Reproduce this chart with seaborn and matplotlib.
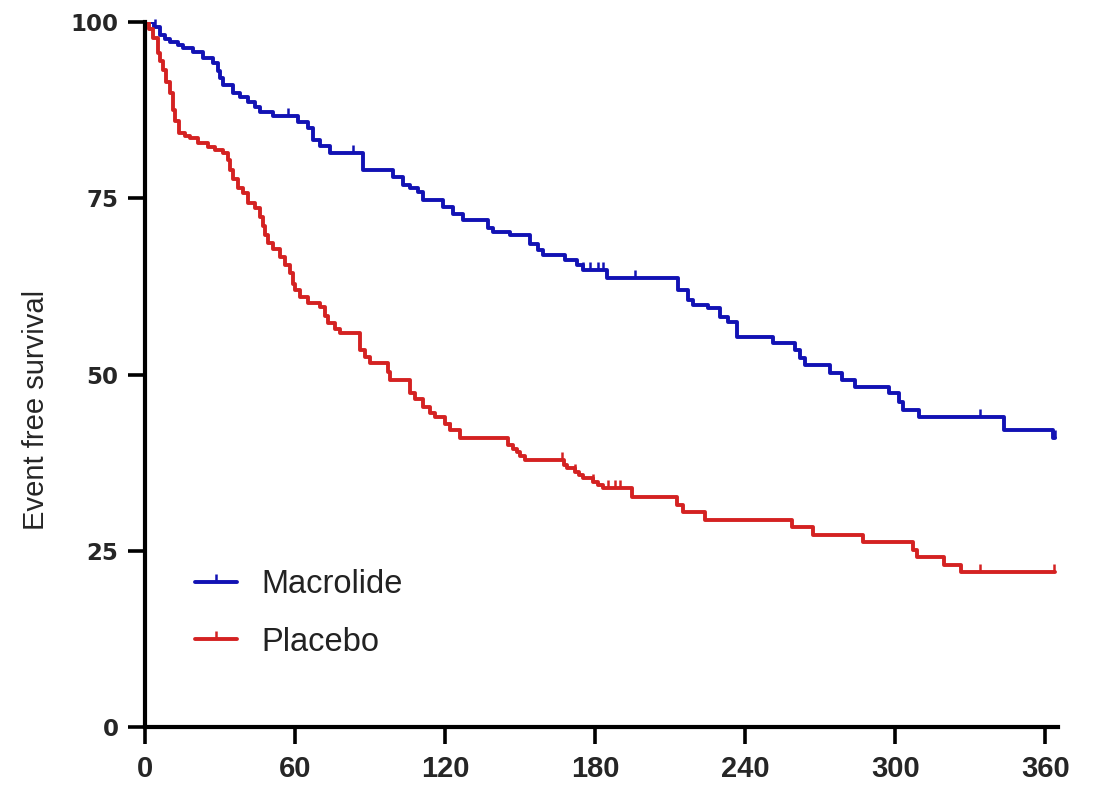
import numpy as np
import pandas as pd
import matplotlib
matplotlib.use("Agg")
import matplotlib.pyplot as plt
from matplotlib.lines import Line2D
import seaborn as sns

# ---------------- data ----------------
macrolide_t = [0, 3.5, 6, 8, 10, 13, 15, 19, 23, 27, 29, 30, 31, 35, 38, 41, 44, 46, 51,
               61, 65, 67, 70, 74, 87, 99, 103, 106, 109, 111, 119, 123, 127, 137, 139,
               146, 154, 157, 159, 168, 172.6, 175, 184.6, 210.5, 213, 217, 219, 225, 230,
               233, 236.5, 251, 260, 261.7, 263.7, 273.7, 278.5, 283.7, 297.6, 301.6, 303,
               309.6, 343.6, 363, 364]
macrolide_s = [100, 99.3, 98.2, 97.6, 97.2, 96.7, 96.3, 95.7, 94.9, 94.2, 93.0, 92.0, 91.0,
               90.0, 89.4, 88.7, 88.0, 87.2, 86.6, 85.8, 85.0, 83.3, 82.4, 81.4, 79.0, 78.0,
               76.9, 76.4, 75.9, 74.8, 73.8, 72.8, 71.9, 70.8, 70.2, 69.8, 68.5, 67.6, 67.0,
               66.2, 65.5, 64.8, 63.7, 63.7, 62.0, 60.6, 59.9, 59.4, 58.2, 57.4, 55.3, 54.5,
               53.5, 52.3, 51.3, 50.2, 49.2, 48.2, 47.4, 46.1, 45.0, 44.0, 42.1, 41.0, 41.0]
macrolide_censor = [4, 57, 83, 175, 178, 181, 183, 196, 334, 364]

placebo_t = [0, 1.5, 3, 5, 6, 7, 8.5, 10, 11, 12, 13.5, 16, 18, 21, 25, 28, 31, 33, 34, 35,
             37, 39, 41, 44, 46, 47, 48, 49, 51, 54, 56, 58, 59, 60, 62, 65, 70, 72, 73, 76,
             78, 86, 88, 90, 97, 98, 106, 108, 111, 114, 116, 120, 122, 126, 145, 147, 148.6,
             150, 152, 167.5, 168.6, 172, 173.5, 175, 179, 181, 183, 194.6, 212.5, 215, 224,
             258.5, 267, 287, 307, 308.5, 319.6, 326.4, 364]
placebo_s = [100, 99.0, 97.8, 95.6, 94.4, 93.2, 91.5, 90.0, 87.5, 86.0, 84.3, 83.8, 83.5,
             82.9, 82.3, 81.8, 81.4, 80.4, 79.0, 77.7, 76.5, 75.7, 74.3, 73.6, 72.3, 71.0,
             69.8, 68.7, 67.8, 66.7, 65.6, 64.4, 62.8, 62.0, 61.0, 60.1, 59.6, 58.3, 57.3,
             56.5, 55.9, 53.5, 52.5, 51.6, 50.4, 49.2, 47.4, 46.5, 45.4, 44.6, 44.0, 43.0,
             42.1, 41.0, 40.0, 39.4, 39.0, 38.5, 37.9, 37.2, 36.7, 36.2, 35.7, 35.3, 34.8,
             34.3, 33.9, 32.6, 31.5, 30.5, 29.4, 28.4, 27.2, 26.2, 25.1, 24.1, 23.0, 22.0, 22.0]
placebo_censor = [122, 166.6, 172, 179, 185, 188, 190, 334, 363.6]

groups = ["Macrolide", "Placebo"]
colors = {"Macrolide": "#1212b4", "Placebo": "#d42222"}
x_ticks = [0, 60, 120, 180, 240, 300, 360]
y_ticks = [0, 25, 50, 75, 100]
y_label = "Event free survival"

# ---------------- build frames ----------------
curves = pd.concat([
    pd.DataFrame({"time": macrolide_t, "surv": macrolide_s, "group": "Macrolide"}),
    pd.DataFrame({"time": placebo_t, "surv": placebo_s, "group": "Placebo"}),
], ignore_index=True)


def surv_at(times, survs, t):
    idx = np.searchsorted(np.asarray(times), t, side="right") - 1
    return np.asarray(survs)[idx]


cens = pd.concat([
    pd.DataFrame({"time": macrolide_censor,
                  "surv": surv_at(macrolide_t, macrolide_s, macrolide_censor),
                  "group": "Macrolide"}),
    pd.DataFrame({"time": placebo_censor,
                  "surv": surv_at(placebo_t, placebo_s, placebo_censor),
                  "group": "Placebo"}),
], ignore_index=True)

# ---------------- plot ----------------
sns.set_style("ticks")
plt.rcParams["font.family"] = ["Liberation Sans", "DejaVu Sans"]

fig = plt.figure(figsize=(10.97, 7.87), dpi=100)
ax = fig.add_axes([145 / 1097, 60 / 787, 913 / 1097, 705 / 787])

LW = 2.8
for g in groups:
    sub = curves[curves.group == g]
    sns.lineplot(data=sub, x="time", y="surv", ax=ax, color=colors[g],
                 drawstyle="steps-post", estimator=None, linewidth=LW, legend=False)
    cs = cens[cens.group == g]
    ax.plot(cs["time"], cs["surv"], linestyle="none", marker=2, markersize=6,
            markeredgewidth=1.8, color=colors[g], clip_on=False)

ax.set_xlim(0, 365)
ax.set_ylim(0, 100)
ax.set_xticks(x_ticks)
ax.set_yticks(y_ticks)
ax.set_xlabel("")
ax.set_ylabel(y_label, fontsize=21)
ax.yaxis.set_label_coords(-0.104, 0.45)

for s in ["top", "right"]:
    ax.spines[s].set_visible(False)
for s in ["left", "bottom"]:
    ax.spines[s].set_linewidth(3.0)
    ax.spines[s].set_color("black")

ax.tick_params(axis="both", direction="out", length=12, width=2.6, color="black")
ax.tick_params(axis="x", pad=8)
ax.tick_params(axis="y", pad=7)
for lab in ax.get_xticklabels():
    lab.set_fontweight("bold")
    lab.set_fontsize(21)
for lab in ax.get_yticklabels():
    lab.set_fontweight("bold")
    lab.set_fontfamily(["DejaVu Sans"])
    lab.set_fontsize(16.5)

handles = [Line2D([0, 0.5, 1], [0, 0, 0], color=colors[g], linewidth=LW, marker=2,
                  markersize=6, markeredgewidth=1.8, markevery=[1]) for g in groups]
leg = ax.legend(handles, groups, loc="upper left", bbox_to_anchor=(0.055, 0.224),
                frameon=False, fontsize=23.5, handlelength=1.28, handletextpad=0.75,
                labelspacing=0.82, borderpad=0, borderaxespad=0)
for t in leg.get_texts():
    t.set_color("#222222")

fig.savefig("out.png", dpi=100, facecolor="white")
